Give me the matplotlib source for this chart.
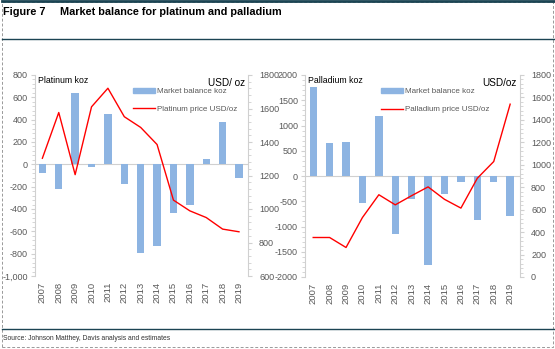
import matplotlib
matplotlib.use("Agg")
import matplotlib.pyplot as plt
from matplotlib.ticker import AutoMinorLocator, FuncFormatter, MultipleLocator
from matplotlib.patches import Rectangle
from matplotlib.lines import Line2D

plt.rcParams['font.family'] = ['Liberation Sans', 'DejaVu Sans']

years = [str(y) for y in range(2007, 2020)]

# platinum: market balance (koz) and average price (USD/oz)
pt_balance = [-78, -218, 642, -20, 448, -179, -794, -731, -436, -361, 45, 376, -122]
pt_price = [1303, 1576, 1205, 1610, 1721, 1551, 1487, 1385, 1053, 989, 949, 880, 864]

# palladium: market balance (koz) and average price (USD/oz)
pd_balance = [1759, 648, 681, -542, 1197, -1157, -463, -1753, -357, -112, -873, -112, -794]
pd_price = [352, 352, 263, 530, 733, 643, 725, 803, 692, 614, 880, 1029, 1540]

bar_col = '#8DB4E2'
line_col = '#FF0000'
grey = '#D0D0D0'
txt = '#595959'
teal = '#1B4453'

fig = plt.figure(figsize=(5.55, 3.49), dpi=100)
W, H = 555, 349


def px(x0, y0, x1, y1):
    return [x0 / W, 1 - y1 / H, (x1 - x0) / W, (y1 - y0) / H]


def panel(rect, bal, price, blim, bstep, plim, pstep, fmt, left_title, right_title,
          price_label, leg_x, xlim):
    ax = fig.add_axes(rect)
    x = range(len(years))
    ax.bar(x, bal, width=0.45, color=bar_col, zorder=2, label='Market balance koz')
    ax.axhline(0, color=grey, lw=0.8, zorder=1)
    ax.set_ylim(*blim)
    ax.set_xlim(*xlim)
    ax.yaxis.set_major_locator(MultipleLocator(bstep))
    ax.yaxis.set_minor_locator(AutoMinorLocator(5))
    ax.yaxis.set_major_formatter(FuncFormatter(fmt))
    ax.set_xticks(list(x))
    ax.set_xticklabels(years, rotation=90)
    for s in ['top', 'bottom', 'right']:
        ax.spines[s].set_visible(False)
    ax.spines['left'].set_color(grey)
    ax.tick_params(axis='y', which='major', length=3, color=grey, labelsize=6.5,
                   labelcolor=txt, pad=2)
    ax.tick_params(axis='y', which='minor', length=2, color=grey)
    ax.tick_params(axis='x', length=0, labelsize=6.8, labelcolor=txt, pad=4)

    ax2 = ax.twinx()
    ax2.plot(x, price, color=line_col, lw=1, zorder=3, label=price_label)
    ax2.set_ylim(*plim)
    ax2.yaxis.set_major_locator(MultipleLocator(pstep))
    ax2.yaxis.set_minor_locator(AutoMinorLocator(5))
    for s in ['top', 'bottom', 'left']:
        ax2.spines[s].set_visible(False)
    ax2.spines['right'].set_color(grey)
    ax2.tick_params(axis='y', which='major', length=3, color=grey, labelsize=6.5,
                    labelcolor=txt, pad=5)
    ax2.tick_params(axis='y', which='minor', length=2, color=grey)

    ax.text(0.015, 0.995, left_title, transform=ax.transAxes, fontsize=6.3,
            va='top', ha='left')
    ax.text(0.985, 0.985, right_title, transform=ax.transAxes, fontsize=7.2,
            va='top', ha='right')

    handles = [Rectangle((0, 0), 1, 1, color=bar_col),
               Line2D([0], [0], color=line_col, lw=1)]
    ax2.legend(handles, ['Market balance koz', price_label], loc='upper left',
               bbox_to_anchor=(leg_x, 0.95), frameon=False, fontsize=5.8,
               labelcolor=txt, handlelength=2.7, handleheight=0.5,
               labelspacing=1.3, handletextpad=0.3, borderaxespad=0)
    return ax, ax2


panel(px(35, 75, 248, 276), pt_balance, pt_price, (-1000, 800), 200,
      (600, 1800), 200, lambda v, p: f'{v:,.0f}', 'Platinum koz', 'USD/ oz',
      'Platinum price USD/oz', 0.445, (-0.45, 12.55))

panel(px(305, 75, 520, 277), pd_balance, pd_price, (-2000, 2000), 500,
      (0, 1800), 200, lambda v, p: f'{v:.0f}', 'Palladium koz', 'USD/oz',
      'Palladium price USD/oz', 0.34, (-0.5, 12.6))

# page furniture: headline, rules, source, dashed frame
fig.text(3 / W, 1 - 12 / H, 'Figure 7', fontsize=7.8, fontweight='bold',
         va='center', ha='left')
fig.text(60 / W, 1 - 12 / H, 'Market balance for platinum and palladium',
         fontsize=7.8, fontweight='bold', va='center', ha='left')
for yy, lw in [(1, 2.0), (39, 1.0), (329, 1.0)]:
    fig.add_artist(Line2D([2 / W, 554 / W], [1 - yy / H, 1 - yy / H],
                          color=teal, lw=lw, transform=fig.transFigure))
fig.text(3 / W, 1 - 338 / H, 'Source: Johnson Matthey, Davis analysis and estimates',
         fontsize=4.9, color='#333333', va='center', ha='left')
fig.add_artist(Rectangle((2 / W, 1 - 347 / H), 551 / W, 345 / H, fill=False,
                         ls=(0, (3, 2)), lw=0.7, edgecolor='#999999',
                         transform=fig.transFigure))

fig.savefig('out.png', dpi=100)
